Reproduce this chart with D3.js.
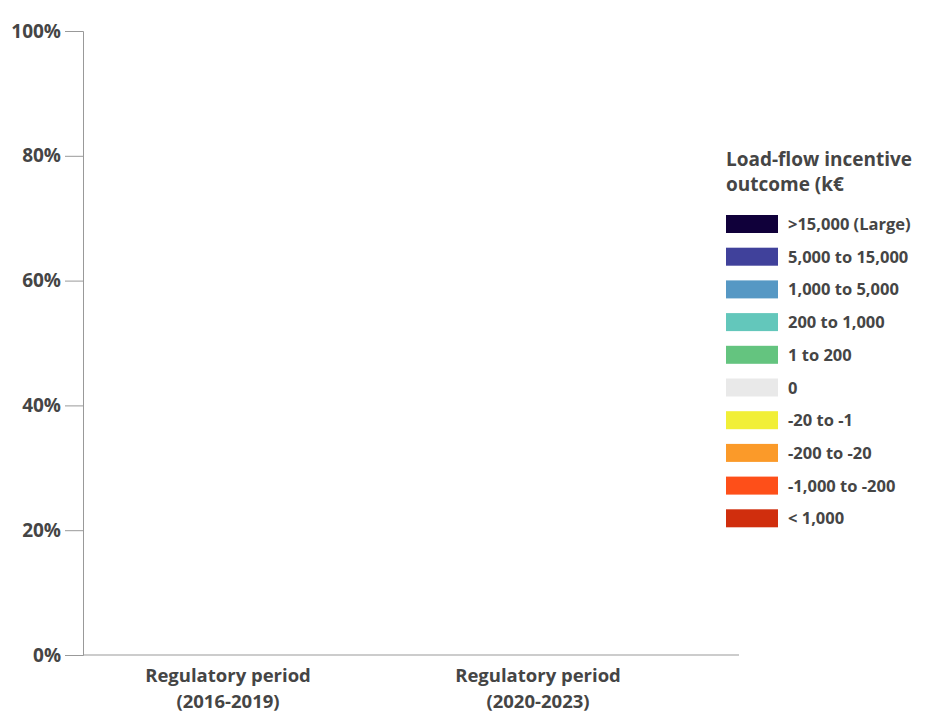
<!DOCTYPE html>
<html>
<head>
<meta charset="utf-8">
<script src="https://cdn.jsdelivr.net/npm/d3@7"></script>
<style>
  body { margin: 0; background: #fff; }
  text { font-family: "Open Sans", Lato, sans-serif; font-weight: 700; fill: #454545; }
</style>
</head>
<body>
<script>
// categories on the x axis
var periods = ["Regulatory period\n(2016-2019)", "Regulatory period\n(2020-2023)"];

// outcome bins, top of legend first
var bins = [">15,000 (Large)", "5,000 to 15,000", "1,000 to 5,000", "200 to 1,000", "1 to 200",
            "0", "-20 to -1", "-200 to -20", "-1,000 to -200", "< 1,000"];
var binColors = ["#10003a", "#40419b", "#5698c4", "#63c7bb", "#64c47f",
                 "#e9e9e9", "#f1ef37", "#fb9a29", "#fe4f19", "#d02e0d"];

// share per bin for each period (the reference shows no bars)
var share2016 = [0, 0, 0, 0, 0, 0, 0, 0, 0, 0];
var share2020 = [0, 0, 0, 0, 0, 0, 0, 0, 0, 0];

var yTicks = [0, 0.2, 0.4, 0.6, 0.8, 1];
var legendTitle = ["Load-flow incentive", "outcome (k€"];

var W = 937, H = 725;
var svg = d3.select("body").append("svg")
    .attr("width", W)
    .attr("height", H);

var x = d3.scaleBand().domain(periods).range([73, 693]);
var y = d3.scaleLinear().domain([0, 1]).range([655, 31]);
var barW = x.bandwidth() * 0.6;

// stacked data
var rows = periods.map(function(p, i) {
  var r = { period: p };
  var vals = i === 0 ? share2016 : share2020;
  bins.forEach(function(b, j) { r[b] = vals[j]; });
  return r;
});
var stack = d3.stack().keys(bins.slice().reverse())(rows);
var color = d3.scaleOrdinal().domain(bins).range(binColors);

svg.append("g").selectAll("g")
    .data(stack)
    .enter().append("g")
    .attr("fill", function(d) { return color(d.key); })
  .selectAll("rect")
    .data(function(d) { return d; })
    .enter().append("rect")
    .attr("x", function(d) { return x(d.data.period) + (x.bandwidth() - barW) / 2; })
    .attr("y", function(d) { return y(d[1]); })
    .attr("height", function(d) { return y(d[0]) - y(d[1]); })
    .attr("width", barW);

// y axis
var yAxis = svg.append("g")
    .attr("transform", "translate(83,0)")
    .call(d3.axisLeft(y).tickValues(yTicks).tickFormat(d3.format(".0%")).tickSize(18).tickPadding(4));
yAxis.select(".domain").attr("stroke", "#999");
yAxis.selectAll(".tick line").attr("stroke", "#999");
yAxis.selectAll(".tick text").style("font-size", "19px").attr("fill", "#454545");

// x axis baseline
svg.append("line")
    .attr("x1", 83).attr("x2", 739)
    .attr("y1", y(0)).attr("y2", y(0))
    .attr("stroke", "#999");

// x labels (two lines)
svg.append("g").selectAll("text")
    .data(periods)
    .enter().append("text")
    .attr("text-anchor", "middle")
    .attr("transform", function(d) { return "translate(" + (x(d) + x.bandwidth() / 2) + ",682)"; })
    .style("font-size", "18.5px")
    .selectAll("tspan")
    .data(function(d) { return d.split("\n"); })
    .enter().append("tspan")
    .attr("x", 0)
    .attr("dy", function(d, i) { return i ? 26 : 0; })
    .text(function(d) { return d; });

// legend
var lg = svg.append("g").attr("transform", "translate(726,0)");
lg.selectAll("text.title")
    .data(legendTitle)
    .enter().append("text")
    .attr("class", "title")
    .attr("y", function(d, i) { return 166 + i * 25; })
    .style("font-size", "19px")
    .text(function(d) { return d; });

var item = lg.selectAll("g.item")
    .data(bins)
    .enter().append("g")
    .attr("class", "item")
    .attr("transform", function(d, i) { return "translate(0," + (215 + i * 32.7) + ")"; });
item.append("rect")
    .attr("width", 52).attr("height", 18)
    .attr("fill", function(d) { return color(d); });
item.append("text")
    .attr("x", 62).attr("y", 15)
    .style("font-size", "16.5px")
    .text(function(d) { return d; });
</script>
</body>
</html>
